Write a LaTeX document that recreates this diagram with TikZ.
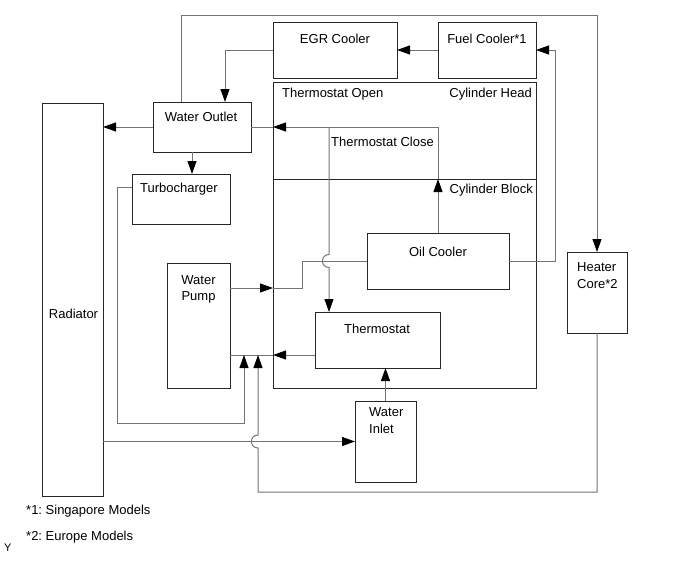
\documentclass[tikz,border=0pt]{standalone}
\usepackage{fontspec}
\setmainfont{Liberation Sans}
\usetikzlibrary{arrows.meta}
\frenchspacing
\begin{document}
\begin{tikzpicture}[x=1pt,y=-1pt,
  box/.style={draw=black!85,line width=1pt,inner sep=0pt,outer sep=0pt,anchor=north west},
  boxline/.style={draw=black!85,line width=1pt},
  conn/.style={draw=black!55,line width=1pt},
  arr/.style={-{Triangle[length=13pt,width=9pt,color=black]}},
  txt/.style={inner sep=0pt,anchor=base,font=\fontsize{13}{16}\selectfont}]
\useasboundingbox (0,0) rectangle (690,562);
% boxes
\node[box,minimum width=124pt,minimum height=56pt] (egr) at (273,22) {};
\node[box,minimum width=98pt,minimum height=56pt] (fuel) at (438,22) {};
\node[box,minimum width=263pt,minimum height=306pt] (cyl) at (273,82) {};
\node[box,minimum width=98pt,minimum height=50pt] (wout) at (153,102) {};
\node[box,minimum width=98pt,minimum height=50pt] (turbo) at (132,174) {};
\node[box,minimum width=61pt,minimum height=393pt] (rad) at (42,103) {};
\node[box,minimum width=63pt,minimum height=125pt] (pump) at (167,263) {};
\node[box,minimum width=142pt,minimum height=56pt] (oil) at (367,233) {};
\node[box,minimum width=125pt,minimum height=56pt] (thermo) at (315,312) {};
\node[box,minimum width=61pt,minimum height=81pt] (winlet) at (355,401) {};
\node[box,minimum width=60pt,minimum height=81pt] (heater) at (567,252) {};
\coordinate (divL) at (273,179);
\coordinate (divR) at (536,179);
\draw[boxline] (divL) -- (divR);
% texts
\node[txt] (tegr) at (335,43) {EGR Cooler};
\node[txt] (tfuel) at (487,43) {Fuel Cooler*1};
\node[txt,anchor=base west] (topen) at (282,97) {Thermostat Open};
\node[txt,anchor=base east] (thead) at (532,97) {Cylinder Head};
\node[txt] (twout) at (201,121) {Water Outlet};
\node[txt,anchor=base west] (tclose) at (331,146) {Thermostat Close};
\node[txt,anchor=base east] (tblock) at (533,193) {Cylinder Block};
\node[txt] (tturbo) at (179,192) {Turbocharger};
\node[txt] (toil) at (438,256) {Oil Cooler};
\node[txt] (tpumpa) at (198.5,284) {Water};
\node[txt] (tpumpb) at (198.5,300.5) {Pump};
\node[txt] (tthermo) at (377,333) {Thermostat};
\node[txt,anchor=base west] (twina) at (369,416.5) {Water};
\node[txt,anchor=base west] (twinb) at (369,433) {Inlet};
\node[txt,anchor=base west] (theata) at (577,271.5) {Heater};
\node[txt,anchor=base west] (theatb) at (577,288) {Core*2};
\node[txt] (trad) at (73.5,318) {Radiator};
\node[txt,anchor=base west] (fna) at (26,514) {*1: Singapore Models};
\node[txt,anchor=base west] (fnb) at (26,540.5) {*2: Europe Models};
\node[txt,anchor=base west,font=\fontsize{11}{13}\selectfont] (ty) at (4,551) {Y};
% connectors
\coordinate (topL) at (181,15);
\coordinate (topR) at (597,15);
\draw[conn,arr] ([xshift=-21pt]wout.north) -- (topL) -- (topR) -- (heater.north);
\draw[conn,arr] (fuel.west) -- (egr.east);
\coordinate (egrL) at (225,50);
\draw[conn,arr] (egr.west) -- (egrL) -- (egrL |- wout.north);
\coordinate (fcR) at (555,50);
\draw[conn,arr] (oil.east) -| (fcR) -- (fuel.east);
\draw[conn,arr] (wout.west) -- (wout.west -| rad.east);
\coordinate (divO) at (438,179);
\coordinate (hdT) at (438,127);
\draw[conn,arr] (oil.north) -- (divO);
\draw[conn,arr] (divO) -- (hdT) -- (cyl.west |- wout.east);
\draw[conn] (cyl.west |- wout.east) -- (wout.east);
\coordinate (tcT) at (329,127);
\draw[conn,arr] (tcT) -- (329,254.5) .. controls (320.3,254.5) and (320.3,267.5) .. (329,267.5) -- (thermo.north -| tcT);
\coordinate (pumpO) at (230,288);
\coordinate (blkP) at (273,288);
\coordinate (jog) at (302,288);
\draw[conn,arr] (pumpO) -- (blkP);
\draw[conn] (blkP) -- (jog) |- (oil.west);
\coordinate (thL) at (315,355);
\coordinate (blkT) at (273,355);
\coordinate (pumpT) at (230,355);
\draw[conn,arr] (thL) -- (blkT);
\draw[conn] (blkT) -- (pumpT);
\draw[conn,arr] ([xshift=-10pt]wout.south) -- ([xshift=-10pt]wout.south |- turbo.north);
\coordinate (tbO) at (132,187);
\coordinate (tbA) at (117,187);
\coordinate (tbB) at (117,423);
\coordinate (tbC) at (244,423);
\coordinate (tbD) at (244,355);
\draw[conn,arr] (tbO) -- (tbA) -- (tbB) -- (tbC) -- (tbD);
\coordinate (hcA) at (597,492);
\coordinate (hcB) at (258,492);
\coordinate (hcD) at (258,355);
\draw[conn,arr] (heater.south) -- (hcA) -- (hcB) -- (258,448) .. controls (249.3,448) and (249.3,435) .. (258,435) -- (hcD);
\draw[conn,arr] (rad.east |- winlet.west) -- (winlet.west);
\draw[conn,arr] (winlet.north) -- (winlet.north |- thermo.south);
\end{tikzpicture}
\end{document}
